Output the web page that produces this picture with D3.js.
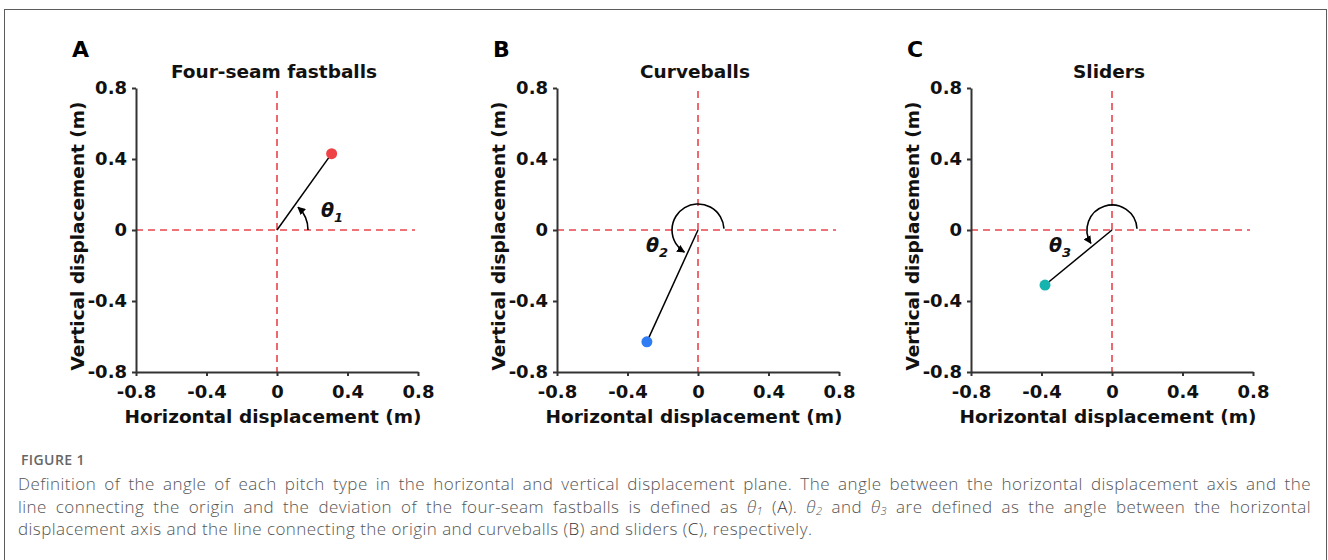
<!DOCTYPE html>
<html>
<head>
<meta charset="utf-8">
<script src="https://cdn.jsdelivr.net/npm/d3@7"></script>
<style>
	body { margin: 0; background: #fff; }
	#fig { position: relative; width: 1328px; height: 560px; overflow: hidden; }
	#fig svg { position: absolute; left: 0; top: 0; }
	.caption { position: absolute; left: 18px; width: 1293px; font-family: "Open Sans", "Noto Sans", sans-serif; font-weight: 300; font-size: 17px; letter-spacing: 0.45px; color: #555; }
	.caption .ln { height: 22.5px; line-height: 22.5px; white-space: nowrap; }
	.caption .just { text-align: justify; text-align-last: justify; white-space: normal; }
	.caption .ref { color: #333; }
	.caption sub { font-size: 11px; line-height: 0; vertical-align: -2px; }
</style>
</head>
<body>
<div id="fig">
	<svg id="chart"></svg>
	<div class="caption" style="top:473px">
		<div class="ln just">Definition of the angle of each pitch type in the horizontal and vertical displacement plane. The angle between the horizontal displacement axis and the</div>
		<div class="ln just">line connecting the origin and the deviation of the four-seam fastballs is defined as <i>θ</i><sub><i>1</i></sub> (<span class="ref">A</span>). <i>θ</i><sub><i>2</i></sub> and <i>θ</i><sub><i>3</i></sub> are defined as the angle between the horizontal</div>
		<div class="ln">displacement axis and the line connecting the origin and curveballs (<span class="ref">B</span>) and sliders (<span class="ref">C</span>), respectively.</div>
	</div>
</div>
<script>
// values
var panelLetters = ["A", "B", "C"];
var pitchTypes = ["Four-seam fastballs", "Curveballs", "Sliders"];
var horizontal = [0.31, -0.29, -0.38];
var vertical = [0.43, -0.63, -0.31];
var angleSubscripts = ["1", "2", "3"];
var tickValues = [-0.8, -0.4, 0, 0.4, 0.8];
var xTitle = "Horizontal displacement (m)";
var yTitle = "Vertical displacement (m)";
var figureLabel = "FIGURE 1";

var width = 1328,
	height = 560,
	panelLeft = [136, 557, 971],
	plotWidth = 282,
	plotTop = 88,
	plotBottom = 372,
	pointColors = ["#ee4244", "#2f7cf5", "#17b3ae"],
	arcRadius = [31, 26, 25],
	arcStart = [0, 3, 3],
	labelOffset = [[44, -13], [-52, 22], [-63, 22]],
	boldFont = "DejaVu Sans";

var svg = d3.select("#chart").attr("width", width).attr("height", height);

svg.append("rect")
	.attr("x", 4.5).attr("y", 9.5)
	.attr("width", 1322).attr("height", 600)
	.attr("fill", "none")
	.attr("stroke", "#5c5c5c")
	.attr("stroke-width", 1);

svg.append("defs").append("marker")
	.attr("id", "arrow")
	.attr("viewBox", "0 0 10 10")
	.attr("refX", 9).attr("refY", 5)
	.attr("markerUnits", "userSpaceOnUse")
	.attr("markerWidth", 8).attr("markerHeight", 8)
	.attr("orient", "auto")
	.append("path")
	.attr("d", "M0,0L10,5L0,10z")
	.attr("fill", "#000");

svg.append("text")
	.attr("x", 21).attr("y", 465)
	.attr("font-family", "'Open Sans', 'Noto Sans', sans-serif")
	.attr("font-size", "14px")
	.attr("font-weight", 600)
	.attr("letter-spacing", "0.4px")
	.attr("fill", "#666")
	.text(figureLabel);

function fmt(d) {
	return d === 0 ? "0" : d.toFixed(1);
}

pitchTypes.forEach(function(title, i) {
	var x = d3.scaleLinear().domain([-0.8, 0.8]).range([panelLeft[i], panelLeft[i] + plotWidth]);
	var y = d3.scaleLinear().domain([-0.8, 0.8]).range([plotBottom, plotTop]);
	var g = svg.append("g");
	var cx = x(0), cy = y(0);

	// reference lines through the origin
	g.append("line")
		.attr("x1", cx).attr("x2", cx)
		.attr("y1", y(0.8) + 3).attr("y2", plotBottom)
		.attr("stroke", "#e8454c").attr("stroke-width", 1.6)
		.attr("stroke-dasharray", "7,5");
	g.append("line")
		.attr("x1", x(-0.8)).attr("x2", x(0.8) - 3)
		.attr("y1", cy).attr("y2", cy)
		.attr("stroke", "#e8454c").attr("stroke-width", 1.6)
		.attr("stroke-dasharray", "7,5");

	var xAxis = g.append("g")
		.attr("transform", "translate(0," + plotBottom + ")")
		.call(d3.axisBottom(x).tickValues(tickValues).tickSize(4).tickSizeOuter(0).tickPadding(9).tickFormat(fmt));
	var yAxis = g.append("g")
		.attr("transform", "translate(" + panelLeft[i] + ",0)")
		.call(d3.axisLeft(y).tickValues(tickValues).tickSize(4).tickSizeOuter(0).tickPadding(5).tickFormat(fmt));

	[xAxis, yAxis].forEach(function(a) {
		a.selectAll("path, line").attr("stroke", "#333").attr("stroke-width", 2);
		a.selectAll("text")
			.attr("font-family", boldFont)
			.attr("font-size", "18px")
			.attr("font-weight", "bold")
			.attr("fill", "#111");
	});
	xAxis.selectAll("text").attr("dy", "0.72em");

	// connector and point
	g.append("line")
		.attr("x1", cx).attr("y1", cy)
		.attr("x2", x(horizontal[i])).attr("y2", y(vertical[i]))
		.attr("stroke", "#000").attr("stroke-width", 1.5);
	g.append("circle")
		.attr("cx", x(horizontal[i])).attr("cy", y(vertical[i]))
		.attr("r", 5.5)
		.attr("fill", pointColors[i]);

	// angle arc, counter-clockwise from the positive horizontal axis
	var lineAngle = Math.atan2(cy - y(vertical[i]), x(horizontal[i]) - cx);
	if (lineAngle < 0) lineAngle += 2 * Math.PI;
	var a0 = arcStart[i] * Math.PI / 180,
		a1 = lineAngle - 7 * Math.PI / 180;
	var p = d3.path();
	p.moveTo(cx + arcRadius[i] * Math.cos(a0), cy - arcRadius[i] * Math.sin(a0));
	p.arc(cx, cy, arcRadius[i], -a0, -a1, true);
	g.append("path")
		.attr("d", p.toString())
		.attr("fill", "none")
		.attr("stroke", "#000")
		.attr("stroke-width", 1.6)
		.attr("marker-end", "url(#arrow)");

	var lbl = g.append("text")
		.attr("x", cx + labelOffset[i][0]).attr("y", cy + labelOffset[i][1])
		.attr("font-family", boldFont)
		.attr("font-weight", "bold")
		.attr("font-style", "italic")
		.attr("font-size", "19px")
		.attr("fill", "#111");
	lbl.append("tspan").text("θ");
	lbl.append("tspan").attr("dy", 5).attr("font-size", "13px").text(angleSubscripts[i]);

	// titles
	g.append("text")
		.attr("x", x(0) - 3).attr("y", 78)
		.attr("text-anchor", "middle")
		.attr("font-family", boldFont).attr("font-weight", "bold").attr("font-size", "18.5px")
		.attr("fill", "#111")
		.text(title);
	g.append("text")
		.attr("x", panelLeft[i] - 64).attr("y", 57)
		.attr("font-family", boldFont).attr("font-weight", "bold").attr("font-size", "22px")
		.attr("fill", "#000")
		.text(panelLetters[i]);
	g.append("text")
		.attr("x", x(0) - 4).attr("y", 423)
		.attr("text-anchor", "middle")
		.attr("font-family", boldFont).attr("font-weight", "bold").attr("font-size", "18.5px")
		.attr("fill", "#111")
		.text(xTitle);
	g.append("text")
		.attr("transform", "translate(" + (panelLeft[i] - 52) + "," + (y(0) + 6) + ") rotate(-90)")
		.attr("text-anchor", "middle")
		.attr("font-family", boldFont).attr("font-weight", "bold").attr("font-size", "18.5px")
		.attr("fill", "#111")
		.text(yTitle);
});
</script>
</body>
</html>
